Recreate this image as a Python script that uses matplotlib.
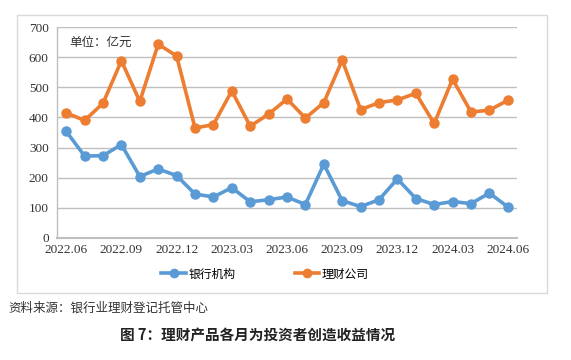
import matplotlib
matplotlib.use("Agg")
import matplotlib.pyplot as plt
from matplotlib.patches import Rectangle
from matplotlib.lines import Line2D

months = ["2022.06","2022.07","2022.08","2022.09","2022.10","2022.11","2022.12",
          "2023.01","2023.02","2023.03","2023.04","2023.05","2023.06","2023.07",
          "2023.08","2023.09","2023.10","2023.11","2023.12","2024.01","2024.02",
          "2024.03","2024.04","2024.05","2024.06"]
bank = [354, 272, 273, 310, 204, 229, 207, 146, 136, 167, 120, 127, 136, 111,
        245, 124, 104, 127, 196, 131, 111, 121, 114, 149, 103]
wmc = [415, 390, 447, 588, 453, 643, 604, 365, 376, 488, 371, 411, 461, 398,
       449, 590, 426, 449, 458, 480, 380, 527, 418, 424, 457]
series_names = ["银行机构", "理财公司"]
yticks = [0, 100, 200, 300, 400, 500, 600, 700]

cjk = ["Noto Sans CJK SC", "DejaVu Sans"]
num_font = ["Liberation Serif", "DejaVu Serif"]

W, H = 571, 360
fig = plt.figure(figsize=(W/100, H/100), dpi=100)
fig.patch.set_facecolor("white")

# chart frame
fig.patches.append(Rectangle((17/W, 1-293/H), (547-17)/W, (293-15)/H,
                             transform=fig.transFigure, fill=False,
                             edgecolor="#D9D9D9", linewidth=1.0))

ax = fig.add_axes([57/W, 1-238/H, (517-57)/W, (238-27)/H])
x = list(range(len(months)))
blue = "#5B9BD5"
orange = "#ED7D31"
ax.plot(x, bank, color=blue, lw=2.6, marker="o", ms=6.5, zorder=3)
ax.plot(x, wmc, color=orange, lw=2.6, marker="o", ms=6.5, zorder=3)

ax.set_xlim(-0.5, len(months)-0.5)
ax.set_ylim(0, 700)
ax.set_yticks(yticks)
ax.set_yticklabels([str(v) for v in yticks], fontfamily=num_font, fontsize=9.5, color="#333333")
tick_pos = x[::3]
ax.set_xticks(tick_pos)
ax.set_xticklabels([months[i] for i in tick_pos], fontfamily=num_font, fontsize=9.5, color="#333333")
ax.tick_params(axis="both", length=0, pad=4)
ax.tick_params(axis="y", pad=6)
ax.grid(axis="y", color="#BFBFBF", lw=1.0)
ax.set_axisbelow(True)
for s in ["top", "right"]:
    ax.spines[s].set_visible(False)
ax.spines["left"].set_color("#BFBFBF")
ax.spines["bottom"].set_color("#BFBFBF")
ax.spines["left"].set_linewidth(1.0)
ax.spines["bottom"].set_linewidth(1.5)

ax.text(69/W, 1-42/H, "单位：亿元", transform=fig.transFigure, fontfamily=cjk,
        fontsize=9, color="#333333", va="center", ha="left")

handles = [Line2D([0], [0], color=blue, lw=2.6, marker="o", ms=6),
           Line2D([0], [0], color=orange, lw=2.6, marker="o", ms=6)]
fig.legend(handles, series_names, loc="center", bbox_to_anchor=(265/W, 1-274/H),
           ncol=2, frameon=False, prop={"family": cjk, "size": 8.5},
           handlelength=2.1, columnspacing=5.0, handletextpad=0.2)

fig.text(8/W, 1-308/H, "资料来源：银行业理财登记托管中心", fontfamily=cjk,
         fontsize=9, color="#333333", va="center", ha="left")
fig.text(258/W, 1-335/H, "图 7：理财产品各月为投资者创造收益情况", fontfamily=cjk,
         fontsize=10.5, fontweight="bold", color="#222222", va="center", ha="center")

fig.savefig("out.png", dpi=100, facecolor="white")
